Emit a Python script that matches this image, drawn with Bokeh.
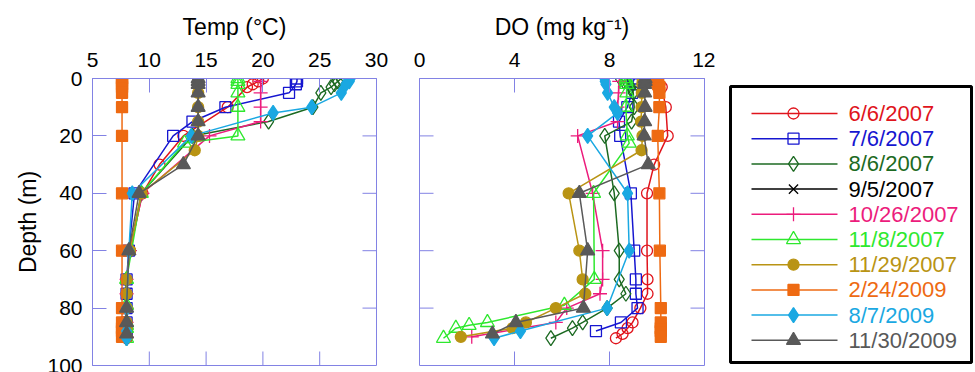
from bokeh.plotting import figure
from bokeh.layouts import row
from bokeh.models import Range1d, FixedTicker, ColumnDataSource, BoxAnnotation
from bokeh.embed import file_html
from bokeh.resources import INLINE
from bokeh.core.properties import value

# ---------------- data ----------------
labels = ["6/6/2007", "7/6/2007", "8/6/2007", "9/5/2007", "10/26/2007",
          "11/8/2007", "11/29/2007", "2/24/2009", "8/7/2009", "11/30/2009"]
colors = ["#e0141c", "#1616d0", "#1c6a22", "#000000", "#ec1c7c",
          "#2ee82e", "#b99414", "#ee6a12", "#1aa8e2", "#595959"]
markers = ["circle", "square", "diamond", "x", "cross",
           "triangle", "circle", "square", "diamond", "triangle"]
filled = [False, False, False, False, False, False, True, True, True, True]

temp_ticks = [5, 10, 15, 20, 25, 30]
do_ticks = [0, 4, 8, 12]
depth_ticks = [0, 20, 40, 60, 80, 100]

depth_060607 = [0, 1, 2, 3, 10, 20, 30, 40, 60, 70, 75, 80, 85, 87, 89, 90.5]
temp_060607 = [20.0, 19.6, 19.1, 18.6, 16.9, 13.0, 10.9, 9.4, 8.3, 8.0, 8.0, 8.0, 8.0, 8.0, 8.0, 8.0]
do_060607 = [9.9, 10.0, 10.1, 10.2, 10.37, 10.45, 9.88, 9.58, 9.58, 9.6, 9.6, 9.3, 8.97, 8.76, 8.55, 8.27]

depth_070607 = [0, 1, 2, 5, 10, 15, 20, 40, 60, 70, 75, 80, 85, 88]
temp_070607 = [23.0, 23.0, 22.9, 22.3, 16.7, 13.8, 12.1, 8.7, 8.2, 8.0, 8.0, 8.0, 8.0, 8.0]
do_070607 = [9.05, 9.0, 9.0, 8.95, 8.75, 8.4, 8.45, 8.9, 9.04, 9.11, 9.11, 9.18, 8.48, 7.43]

depth_080607 = [0, 1, 2, 3, 5, 10, 15, 20, 40, 60, 70, 75, 80, 85, 87, 90.5]
temp_080607 = [26.9, 26.6, 26.3, 26.0, 25.1, 24.4, 20.5, 13.8, 9.3, 8.3, 8.0, 8.0, 8.0, 8.0, 8.0, 8.0]
do_080607 = [8.45, 8.6, 8.8, 8.9, 9.0, 9.04, 8.93, 7.8, 8.2, 8.41, 8.41, 8.69, 7.9, 6.87, 6.44, 5.53]

depth_090507 = []
temp_090507 = []
do_090507 = []

depth_102607 = [1, 5, 10, 15, 20, 40, 60, 70, 75, 80, 85, 90]
temp_102607 = [19.8, 19.8, 19.8, 19.8, 15.3, 9.4, 8.3, 8.0, 8.0, 8.0, 8.0, 8.0]
do_102607 = [8.41, 8.38, 8.34, 8.34, 6.66, 7.29, 7.71, 7.71, 7.6, 6.2, 5.74, 2.2]

depth_110807 = [0, 1, 2, 5, 10, 20, 22.5, 40, 70, 79, 85, 86, 87, 90.5]
temp_110807 = [17.8, 17.8, 17.8, 17.8, 17.8, 17.8, 13.1, 9.3, 8.0, 8.0, 8.0, 8.0, 8.0, 8.0]
do_110807 = [8.7, 8.7, 8.72, 8.73, 8.69, 8.75, 8.83, 7.33, 7.36, 6.1, 2.86, 2.09, 1.53, 1.01]

depth_112907 = [0, 1, 2, 5, 10, 15, 20, 25, 40, 60, 70, 75, 80, 85, 87, 90]
temp_112907 = [14.3, 14.3, 14.3, 14.3, 14.3, 14.3, 14.3, 14.0, 9.3, 8.3, 8.0, 8.0, 8.0, 8.0, 8.0, 8.0]
do_112907 = [9.4, 9.4, 9.38, 9.36, 9.35, 9.33, 9.39, 9.35, 6.28, 6.73, 6.87, 6.98, 5.74, 4.48, 3.92, 1.74]

depth_022409 = [0, 1, 2, 3, 5, 10, 20, 40, 60, 80, 85, 87, 88, 90]
temp_022409 = [7.6, 7.6, 7.6, 7.6, 7.6, 7.6, 7.6, 7.6, 7.6, 7.6, 7.6, 7.6, 7.6, 7.6]
do_022409 = [9.95, 10.0, 10.05, 10.1, 10.1, 10.1, 10.03, 10.1, 10.12, 10.16, 10.16, 10.16, 10.16, 10.16]

depth_080709 = [0, 1, 2, 5, 10, 12, 20, 40, 60, 80, 88, 90.5]
temp_080709 = [27.7, 27.6, 27.3, 26.9, 24.3, 20.9, 13.7, 8.5, 8.2, 8.0, 8.0, 8.0]
do_080709 = [7.8, 7.82, 7.85, 7.92, 8.2, 8.34, 7.08, 8.76, 8.83, 7.9, 4.25, 3.14]

depth_113009 = [0, 1, 2, 5, 10, 15, 20, 30, 40, 60, 80, 85, 89]
temp_113009 = [14.3, 14.3, 14.3, 14.3, 14.3, 14.3, 14.3, 13.0, 9.1, 8.2, 8.0, 8.0, 8.0]
do_113009 = [9.5, 9.5, 9.48, 9.48, 9.5, 9.48, 9.46, 9.63, 6.73, 7.08, 6.9, 4.06, 3.07]

depths = [depth_060607, depth_070607, depth_080607, depth_090507, depth_102607,
          depth_110807, depth_112907, depth_022409, depth_080709, depth_113009]
temps = [temp_060607, temp_070607, temp_080607, temp_090507, temp_102607,
         temp_110807, temp_112907, temp_022409, temp_080709, temp_113009]
dos = [do_060607, do_070607, do_080607, do_090507, do_102607,
       do_110807, do_112907, do_022409, do_080709, do_113009]

# ---------------- style ----------------
FONT = "Liberation Sans"
FRAME = "#8282e4"
TICK = 14
TOP, BOTTOM = 78, 7
marker_size = {"circle": 11, "square": 11, "diamond": 15, "x": 13, "cross": 14, "triangle": 14}


def style_axis(ax):
    ax.major_tick_in = TICK
    ax.major_tick_out = 0
    ax.minor_tick_line_color = None
    ax.axis_line_color = FRAME
    ax.major_tick_line_color = FRAME
    ax.major_label_text_font = FONT
    ax.major_label_text_font_size = "21px"
    ax.major_label_text_color = "black"
    ax.axis_label_text_font = FONT
    ax.axis_label_text_font_style = "normal"
    ax.axis_label_text_font_size = "23px"
    ax.axis_label_text_color = "black"


def inner_ticks(p, xs, ys, angle):
    # short inward tick marks on the unlabeled sides of the frame
    p.ray(x=xs, y=ys, length=TICK, length_units="screen", angle=angle, angle_units="deg",
          line_color=FRAME, line_width=1)


def panel(xr, xticks, title, width, lb, rb, values, ylab):
    p = figure(width=width, height=372, x_range=Range1d(xr[0], xr[-1]),
               y_range=Range1d(depth_ticks[-1], depth_ticks[0]),
               x_axis_location="above", y_axis_type="linear" if ylab else None,
               title=None, output_backend="svg", toolbar_location=None,
               min_border_left=lb, min_border_right=rb,
               min_border_top=TOP, min_border_bottom=BOTTOM)
    p.grid.visible = False
    p.outline_line_color = FRAME
    top = p.xaxis[0]
    top.ticker = FixedTicker(ticks=xticks)
    top.axis_label = title
    style_axis(top)
    top.major_label_standoff = 12
    top.axis_label_standoff = 10
    if ylab:
        left = p.yaxis[0]
        left.ticker = FixedTicker(ticks=depth_ticks)
        style_axis(left)
        left.axis_label = "Depth (m)"
        left.major_label_standoff = 10
        left.axis_label_standoff = 3
    else:
        inner_ticks(p, [xr[0]] * len(depth_ticks[1:-1]), depth_ticks[1:-1], 0)
    inner_ticks(p, xticks[1:-1], [depth_ticks[-1]] * len(xticks[1:-1]), 90)
    inner_ticks(p, [xr[-1]] * len(depth_ticks[1:-1]), depth_ticks[1:-1], 180)

    for i in range(len(labels)):
        src = ColumnDataSource(dict(x=values[i], y=depths[i]))
        p.line("x", "y", source=src, line_color=colors[i], line_width=1.5)
        p.scatter("x", "y", source=src, marker=markers[i], size=marker_size[markers[i]],
                  line_color=colors[i], line_width=1.3,
                  fill_color=colors[i], fill_alpha=1.0 if filled[i] else 0.0)
    return p


p1 = panel(temp_ticks, temp_ticks, "Temp (°C)", 388, 92, 12, temps, True)
p2 = panel(do_ticks, do_ticks, "DO (mg kg⁻¹)", 327, 31, 11, dos, False)

# ---------------- legend panel ----------------
# frame spans x 727..973 and y 78..365 of the page; rows are 25.2 px apart, first at y=113
n = len(labels)
ROW = 25.2
p3 = figure(width=260, height=372, x_range=Range1d(0, 246),
            y_range=Range1d((365 - 113) / ROW, (78 - 113) / ROW),
            x_axis_type=None, y_axis_type=None, title=None,
            output_backend="svg", toolbar_location=None,
            min_border_left=12, min_border_right=2, min_border_top=TOP, min_border_bottom=BOTTOM)
p3.grid.visible = False
p3.outline_line_color = None
p3.add_layout(BoxAnnotation(left=3, right=244, top=(86 - 113) / ROW, bottom=(362 - 113) / ROW,
                            fill_alpha=0, line_color="black", line_alpha=1.0, line_width=3))
leg = ColumnDataSource(dict(
    idx=list(range(n)), label=labels, color=colors, marker=markers,
    size=[marker_size[m] for m in markers],
    falpha=[1.0 if f else 0.0 for f in filled]))
p3.segment(x0=24, x1=110, y0="idx", y1="idx", source=leg, line_color="color", line_width=1.5)
p3.scatter(x=66, y="idx", source=leg, marker="marker", size="size", line_color="color",
           line_width=1.3, fill_color="color", fill_alpha="falpha")
p3.text(x=121, y="idx", text="label", source=leg, text_color="color",
        text_font=value(FONT), text_font_size="22px", text_baseline="middle")

layout = row(p1, p2, p3)
open("out.html", "w").write(file_html(layout, INLINE))
